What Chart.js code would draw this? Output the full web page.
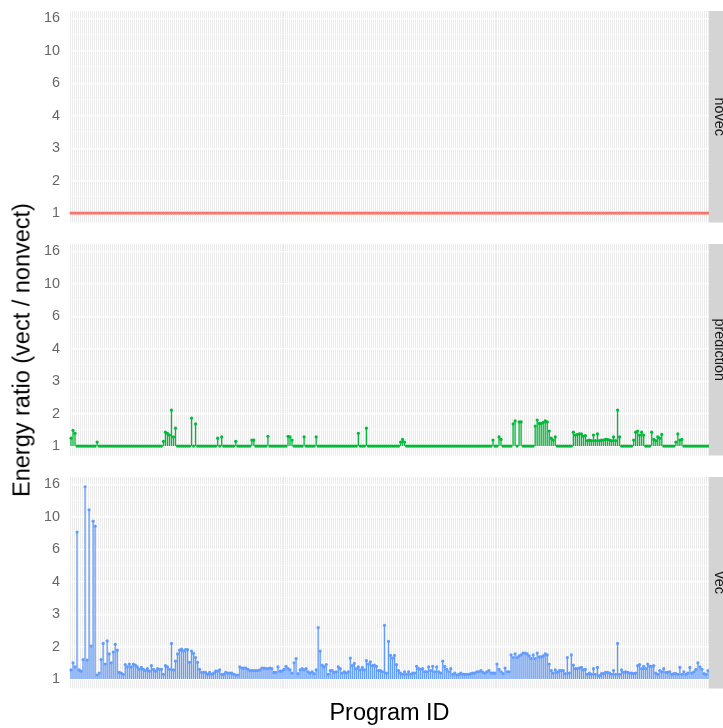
<!DOCTYPE html>
<html>
<head>
<meta charset="utf-8">
<script src="https://cdn.jsdelivr.net/npm/chart.js@4.4.1/dist/chart.umd.min.js"></script>
<style>
  html, body { margin: 0; padding: 0; background: #fff; }
  #wrap { position: relative; width: 723px; height: 728px; overflow: hidden; font-family: "Liberation Sans", Arial, sans-serif; }
  #wrap canvas { position: absolute; left: 0; }
  .ytitle { position: absolute; left: 22px; top: 350px; transform: translate(-50%, -50%) rotate(-90deg); white-space: nowrap; font-size: 23.5px; color: #000; }
  .xtitle { position: absolute; left: 389.5px; top: 699px; transform: translateX(-50%); white-space: nowrap; font-size: 23.5px; color: #000; }
</style>
</head>
<body>
<div id="wrap">
  <canvas id="pNovec" width="723" height="233" style="top:0px"></canvas>
  <canvas id="pPrediction" width="723" height="233" style="top:233px"></canvas>
  <canvas id="pVec" width="723" height="262" style="top:466px"></canvas>
  <div class="ytitle">Energy ratio (vect / nonvect)</div>
  <div class="xtitle">Program ID</div>
</div>
<script>
// energy ratio per program, vectorised vs. non-vectorised build
const vec = [
  1.14,1.26,1.19,8.1,1.14,1.12,1.32,15.4,1.31,11.1, 1.6,9.45,8.8,1.06,1.09,1.32,1.66,1.24,1.72,1.43,
  1.26,1.47,1.64,1.51,1.10,1.09,1.07,1.23,1.19,1.24, 1.19,1.24,1.22,1.19,1.15,1.18,1.15,1.13,1.16,1.12,
  1.21,1.15,1.12,1.16,1.15,1.15,1.07,1.21,1.19,1.15, 1.66,1.14,1.29,1.43,1.51,1.53,1.49,1.52,1.52,1.27,
  1.49,1.44,1.36,1.27,1.15,1.10,1.10,1.10,1.07,1.10, 1.07,1.09,1.12,1.12,1.14,1.07,1.07,1.10,1.09,1.09,
  1.09,1.07,1.06,1.06,1.19,1.17,1.17,1.17,1.15,1.13, 1.13,1.13,1.13,1.13,1.14,1.17,1.17,1.16,1.16,1.17,
  1.16,1.10,1.10,1.19,1.12,1.12,1.15,1.20,1.16,1.14, 1.09,1.26,1.34,1.08,1.14,1.16,1.14,1.16,1.11,1.09,
  1.11,1.08,1.14,2.08,1.49,1.22,1.19,1.23,1.07,1.13, 1.13,1.10,1.11,1.19,1.16,1.09,1.11,1.09,1.11,1.35,
  1.21,1.25,1.16,1.19,1.14,1.18,1.14,1.30,1.24,1.28, 1.21,1.22,1.20,1.13,1.13,1.11,2.15,1.09,1.71,1.40,
  1.35,1.40,1.23,1.13,1.09,1.07,1.11,1.07,1.11,1.07, 1.09,1.09,1.20,1.16,1.15,1.16,1.11,1.11,1.19,1.13,
  1.20,1.11,1.19,1.11,1.09,1.29,1.20,1.15,1.11,1.16, 1.07,1.09,1.06,1.07,1.09,1.07,1.07,1.07,1.07,1.08,
  1.09,1.09,1.11,1.11,1.13,1.10,1.09,1.11,1.13,1.09, 1.09,1.09,1.24,1.15,1.11,1.08,1.17,1.11,1.11,1.41,
  1.36,1.43,1.36,1.39,1.41,1.45,1.45,1.43,1.39,1.34, 1.41,1.34,1.45,1.37,1.37,1.39,1.43,1.41,1.24,1.13,
  1.09,1.14,1.10,1.13,1.13,1.13,1.08,1.36,1.09,1.41, 1.22,1.16,1.16,1.17,1.18,1.14,1.15,1.07,1.09,1.07,
  1.16,1.07,1.18,1.05,1.08,1.08,1.10,1.10,1.09,1.07, 1.13,1.07,1.66,1.07,1.14,1.10,1.11,1.10,1.09,1.09,
  1.08,1.09,1.21,1.23,1.16,1.20,1.16,1.24,1.20,1.20, 1.21,1.09,1.07,1.13,1.11,1.16,1.10,1.10,1.11,1.07,
  1.08,1.08,1.07,1.18,1.07,1.11,1.07,1.09,1.18,1.09, 1.11,1.15,1.26,1.19,1.15,1.08,1.07,1.13
];

// ratio when the model decides whether to vectorise
const prediction = [
  1.12,1.25,1.20,1,1,1,1,1,1,1, 1,1,1,1.06,1,1,1,1,1,1,
  1,1,1,1,1,1,1,1,1,1, 1,1,1,1,1,1,1,1,1,1,
  1,1,1,1,1,1,1.07,1.22,1.20,1.17, 1.67,1.14,1.29,1,1,1,1,1,1,1,
  1.49,1,1.37,1,1,1,1,1,1,1, 1,1,1,1.12,1,1.14,1,1,1,1,
  1,1,1.07,1,1,1,1,1,1,1, 1.09,1.09,1,1,1,1,1,1,1.15,1,
  1,1,1,1,1,1,1,1,1.15,1.14, 1.09,1,1,1,1,1,1.14,1,1,1,
  1,1,1.14,1,1,1,1,1,1,1, 1,1,1,1,1,1,1,1,1,1,
  1,1,1,1.20,1,1,1,1.29,1,1, 1,1,1,1,1,1,1,1,1,1,
  1,1,1,1,1.06,1.10,1.06,1,1,1, 1,1,1,1,1,1,1,1,1,1,
  1,1,1,1,1,1,1,1,1,1, 1,1,1,1,1,1,1,1,1,1,
  1,1,1,1,1,1,1,1,1,1, 1.09,1,1,1.14,1.10,1,1,1,1,1,
  1.37,1.43,1,1.41,1.41,1,1,1,1,1, 1,1.33,1.45,1.38,1.38,1.40,1.43,1.41,1.24,1.12,
  1.09,1.14,1,1,1,1,1,1,1,1, 1.22,1.17,1.18,1.19,1.19,1.15,1.16,1.08,1.09,1.08,
  1.17,1.08,1.19,1.08,1.09,1.09,1.10,1.10,1.09,1.08, 1.14,1.08,1.67,1.14,1,1,1,1,1,1,
  1.09,1.22,1.24,1.17,1.22,1.17,1,1,1,1.22, 1.10,1.08,1.14,1.12,1.18,1,1,1,1,1,
  1,1.06,1.19,1.09,1.10,1,1,1,1,1, 1,1,1,1,1,1,1,1
];

// novec is the reference build itself, so every ratio is exactly 1
const novec = new Array(vec.length).fill(1);

const programIds = vec.map((_, i) => String(i + 1));

// y breaks sit evenly on the log axis; labels are rounded
const yBreaks = [1, 1.587, 2.52, 4, 6.35, 10.08, 16];
const yLabels = ['1', '2', '3', '4', '6', '10', '16'];
const yMin = 0.875;
const yMax = 17.71;

const panels = [
  { id: 'pNovec', name: 'novec', values: novec, color: '#F8766D', padBottom: 10.5 },
  { id: 'pPrediction', name: 'prediction', values: prediction, color: '#00BA38', padBottom: 10.5 },
  { id: 'pVec', name: 'vec', values: vec, color: '#619CFF', padBottom: 39.5 }
];

const FONT = '"Liberation Sans", Arial, sans-serif';

// major breaks plus a minor line halfway between each pair
function buildTicks() {
  const ticks = [];
  yBreaks.forEach((b, i) => {
    ticks.push({ value: b, lbl: yLabels[i], minor: false });
    if (i < yBreaks.length - 1) {
      ticks.push({ value: Math.sqrt(b * yBreaks[i + 1]), lbl: '', minor: true });
    }
  });
  return ticks;
}

const panelBg = {
  id: 'panelBg',
  beforeDraw(chart) {
    const a = chart.chartArea, c = chart.ctx;
    c.save();
    c.fillStyle = '#EBEBEB';
    c.fillRect(a.left, a.top, a.right - a.left, a.bottom - a.top);
    c.restore();
  }
};

const stripLabel = {
  id: 'stripLabel',
  afterDraw(chart, args, opts) {
    const a = chart.chartArea, c = chart.ctx;
    c.save();
    c.fillStyle = '#D4D4D4';
    c.fillRect(a.right, a.top, 30, a.bottom - a.top);
    c.translate(a.right + 6, (a.top + a.bottom) / 2);
    c.rotate(Math.PI / 2);
    c.fillStyle = '#1A1A1A';
    c.font = '14.4px ' + FONT;
    c.textAlign = 'center';
    c.textBaseline = 'alphabetic';
    c.fillText(opts.text, 0, 0);
    c.restore();
  }
};

panels.forEach(p => {
  new Chart(document.getElementById(p.id), {
    type: 'bar',
    data: {
      labels: programIds,
      datasets: [
        {
          type: 'line',
          data: p.values,
          showLine: false,
          pointRadius: 1.6,
          pointBorderWidth: 0,
          pointBackgroundColor: p.color,
          order: 0
        },
        {
          type: 'bar',
          data: p.values.map(v => [1, v]),
          backgroundColor: p.color,
          barPercentage: 0.65,
          categoryPercentage: 1,
          order: 1
        }
      ]
    },
    plugins: [panelBg, stripLabel],
    options: {
      responsive: false,
      animation: false,
      events: [],
      layout: { padding: { left: 0, right: 14, top: 11, bottom: p.padBottom } },
      plugins: {
        legend: { display: false },
        tooltip: { enabled: false },
        stripLabel: { text: p.name }
      },
      scales: {
        x: {
          type: 'category',
          offset: true,
          grid: { offset: false, color: '#FFFFFF', lineWidth: 1, drawTicks: false },
          border: { display: false },
          ticks: { display: false, autoSkip: false },
          afterFit(s) { s.height = 0; s.paddingLeft = 0; s.paddingRight = 0; }
        },
        y: {
          type: 'logarithmic',
          min: yMin,
          max: yMax,
          afterBuildTicks(s) { s.ticks = buildTicks(); },
          ticks: {
            autoSkip: false,
            padding: 10,
            color: '#666666',
            font: { family: FONT, size: 14.4 },
            callback: (v, i, ticks) => ticks[i].lbl
          },
          grid: {
            color: '#FFFFFF',
            drawTicks: false,
            lineWidth: ctx => (ctx.tick && ctx.tick.minor ? 0.6 : 1.2)
          },
          border: { display: false },
          // labels may hang past the panel edge without shrinking it
          afterFit(s) { s.width = 70; s.paddingTop = 0; s.paddingBottom = 0; }
        }
      }
    }
  });
});
</script>
</body>
</html>
